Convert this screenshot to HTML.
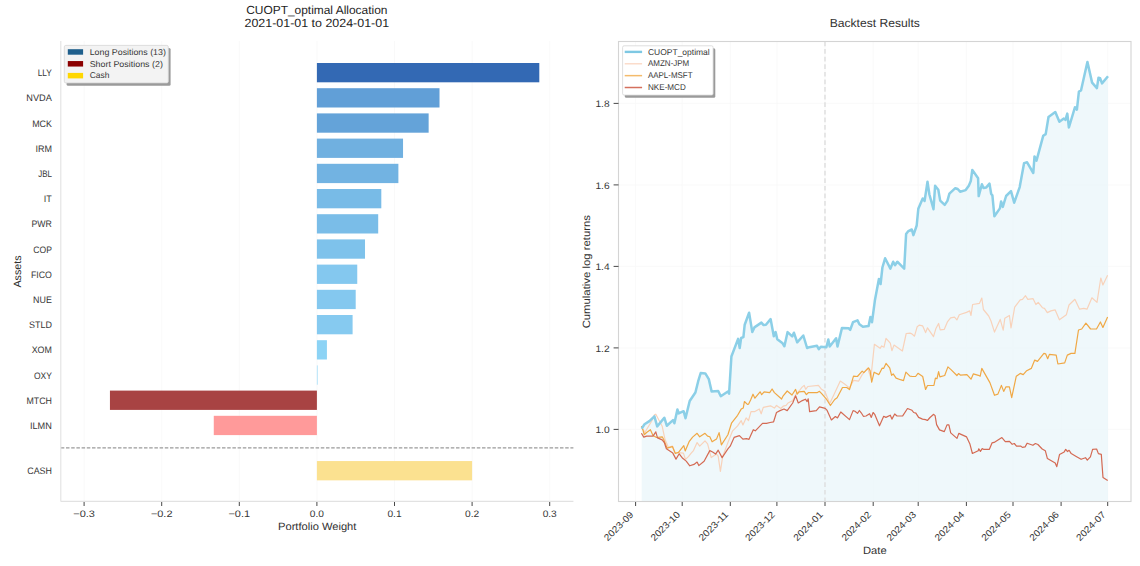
<!DOCTYPE html>
<html><head><meta charset="utf-8"><style>
html,body{margin:0;padding:0;background:#fff;width:1140px;height:566px;overflow:hidden}
svg{display:block}
text{font-family:"Liberation Sans", sans-serif;text-rendering:geometricPrecision}
.tk{font-size:9.43px;fill:#363636}
.al{font-size:10.5px;fill:#303030}
.ti{font-size:11.8px;fill:#1e1e1e}
.ti2{font-size:11.8px;fill:#333}
.lg{font-size:8.48px;fill:#363636}
</style></head><body>
<svg width="1140" height="566" viewBox="0 0 1140 566">
<rect width="1140" height="566" fill="#fff"/>
<line x1="84.10" y1="41.0" x2="84.10" y2="501.4" stroke="#f8f8f8" stroke-width="0.8"/>
<line x1="161.70" y1="41.0" x2="161.70" y2="501.4" stroke="#f8f8f8" stroke-width="0.8"/>
<line x1="239.30" y1="41.0" x2="239.30" y2="501.4" stroke="#f8f8f8" stroke-width="0.8"/>
<line x1="316.90" y1="41.0" x2="316.90" y2="501.4" stroke="#f8f8f8" stroke-width="0.8"/>
<line x1="394.50" y1="41.0" x2="394.50" y2="501.4" stroke="#f8f8f8" stroke-width="0.8"/>
<line x1="472.10" y1="41.0" x2="472.10" y2="501.4" stroke="#f8f8f8" stroke-width="0.8"/>
<line x1="549.70" y1="41.0" x2="549.70" y2="501.4" stroke="#f8f8f8" stroke-width="0.8"/>
<rect x="316.90" y="63.00" width="222.40" height="19.3" fill="#3369b4"/>
<text x="51.90" y="76.20" text-anchor="end" class="tk" textLength="14.17" lengthAdjust="spacingAndGlyphs">LLY</text>
<rect x="316.90" y="88.20" width="122.61" height="19.3" fill="#619fd7"/>
<text x="51.90" y="101.40" text-anchor="end" class="tk" textLength="25.53" lengthAdjust="spacingAndGlyphs">NVDA</text>
<rect x="316.90" y="113.40" width="111.74" height="19.3" fill="#64a3d9"/>
<text x="51.90" y="126.60" text-anchor="end" class="tk" textLength="19.73" lengthAdjust="spacingAndGlyphs">MCK</text>
<rect x="316.90" y="138.60" width="86.14" height="19.3" fill="#70b0e0"/>
<text x="51.90" y="151.80" text-anchor="end" class="tk" textLength="16.49" lengthAdjust="spacingAndGlyphs">IRM</text>
<rect x="316.90" y="163.80" width="81.48" height="19.3" fill="#72b3e2"/>
<text x="51.90" y="177.00" text-anchor="end" class="tk" textLength="13.69" lengthAdjust="spacingAndGlyphs">JBL</text>
<rect x="316.90" y="189.00" width="64.41" height="19.3" fill="#78bbe7"/>
<text x="51.90" y="202.20" text-anchor="end" class="tk" textLength="8.06" lengthAdjust="spacingAndGlyphs">IT</text>
<rect x="316.90" y="214.20" width="61.30" height="19.3" fill="#7abde8"/>
<text x="51.90" y="227.40" text-anchor="end" class="tk" textLength="20.35" lengthAdjust="spacingAndGlyphs">PWR</text>
<rect x="316.90" y="239.40" width="48.11" height="19.3" fill="#7ec2eb"/>
<text x="51.90" y="252.60" text-anchor="end" class="tk" textLength="18.59" lengthAdjust="spacingAndGlyphs">COP</text>
<rect x="316.90" y="264.60" width="40.35" height="19.3" fill="#84c8ef"/>
<text x="51.90" y="277.80" text-anchor="end" class="tk" textLength="20.96" lengthAdjust="spacingAndGlyphs">FICO</text>
<rect x="316.90" y="289.80" width="38.80" height="19.3" fill="#84c8ef"/>
<text x="51.90" y="303.00" text-anchor="end" class="tk" textLength="18.80" lengthAdjust="spacingAndGlyphs">NUE</text>
<rect x="316.90" y="315.00" width="35.70" height="19.3" fill="#86caf0"/>
<text x="51.90" y="328.20" text-anchor="end" class="tk" textLength="22.90" lengthAdjust="spacingAndGlyphs">STLD</text>
<rect x="316.90" y="340.20" width="10.01" height="19.3" fill="#8cd3f5"/>
<text x="51.90" y="353.40" text-anchor="end" class="tk" textLength="20.21" lengthAdjust="spacingAndGlyphs">XOM</text>
<rect x="316.90" y="365.40" width="0.62" height="19.3" fill="#8fd6f7"/>
<text x="51.90" y="378.60" text-anchor="end" class="tk" textLength="17.97" lengthAdjust="spacingAndGlyphs">OXY</text>
<rect x="109.94" y="390.60" width="206.96" height="19.3" fill="#a84343"/>
<text x="51.90" y="403.80" text-anchor="end" class="tk" textLength="25.50" lengthAdjust="spacingAndGlyphs">MTCH</text>
<rect x="213.77" y="415.80" width="103.13" height="19.3" fill="#ff9a9a"/>
<text x="51.90" y="429.00" text-anchor="end" class="tk" textLength="21.92" lengthAdjust="spacingAndGlyphs">ILMN</text>
<rect x="316.90" y="461.05" width="155.20" height="19.3" fill="#fbe190"/>
<text x="51.90" y="474.25" text-anchor="end" class="tk" textLength="24.64" lengthAdjust="spacingAndGlyphs">CASH</text>
<line x1="60.8" y1="447.9" x2="573.4" y2="447.9" stroke="#9a9a9a" stroke-width="1.1" stroke-dasharray="3.5 1.7"/>
<line x1="60.8" y1="41.0" x2="60.8" y2="501.4" stroke="#e2e2e2" stroke-width="1.1"/>
<line x1="60.8" y1="501.4" x2="573.4" y2="501.4" stroke="#e2e2e2" stroke-width="1.1"/>
<line x1="84.10" y1="502" x2="84.10" y2="506" stroke="#333" stroke-width="0.9"/>
<text x="84.10" y="516.60" text-anchor="middle" class="tk" textLength="21.61" lengthAdjust="spacingAndGlyphs">−0.3</text>
<line x1="161.70" y1="502" x2="161.70" y2="506" stroke="#333" stroke-width="0.9"/>
<text x="161.70" y="516.60" text-anchor="middle" class="tk" textLength="21.61" lengthAdjust="spacingAndGlyphs">−0.2</text>
<line x1="239.30" y1="502" x2="239.30" y2="506" stroke="#333" stroke-width="0.9"/>
<text x="239.30" y="516.60" text-anchor="middle" class="tk" textLength="21.61" lengthAdjust="spacingAndGlyphs">−0.1</text>
<line x1="316.90" y1="502" x2="316.90" y2="506" stroke="#333" stroke-width="0.9"/>
<text x="316.90" y="516.60" text-anchor="middle" class="tk" textLength="14.15" lengthAdjust="spacingAndGlyphs">0.0</text>
<line x1="394.50" y1="502" x2="394.50" y2="506" stroke="#333" stroke-width="0.9"/>
<text x="394.50" y="516.60" text-anchor="middle" class="tk" textLength="14.15" lengthAdjust="spacingAndGlyphs">0.1</text>
<line x1="472.10" y1="502" x2="472.10" y2="506" stroke="#333" stroke-width="0.9"/>
<text x="472.10" y="516.60" text-anchor="middle" class="tk" textLength="14.15" lengthAdjust="spacingAndGlyphs">0.2</text>
<line x1="549.70" y1="502" x2="549.70" y2="506" stroke="#333" stroke-width="0.9"/>
<text x="549.70" y="516.60" text-anchor="middle" class="tk" textLength="14.15" lengthAdjust="spacingAndGlyphs">0.3</text>
<text x="317.20" y="530.10" text-anchor="middle" class="al" textLength="78.36" lengthAdjust="spacingAndGlyphs">Portfolio Weight</text>
<text transform="translate(21.40,271.50) rotate(-90)" text-anchor="middle" class="al" textLength="32.22" lengthAdjust="spacingAndGlyphs">Assets</text>
<text x="316.80" y="14.40" text-anchor="middle" class="ti" textLength="141.26" lengthAdjust="spacingAndGlyphs">CUOPT_optimal Allocation</text>
<text x="316.80" y="27.10" text-anchor="middle" class="ti" textLength="144.56" lengthAdjust="spacingAndGlyphs">2021-01-01 to 2024-01-01</text>
<rect x="66.6" y="47.9" width="104.0" height="37.9" fill="#9a9a9a" rx="1.5"/>
<rect x="64.3" y="45.4" width="104.0" height="37.5" fill="#f3f3f3" stroke="#d6d6d6" stroke-width="0.8" rx="1.5"/>
<rect x="67.8" y="49.20" width="15.3" height="5.5" fill="#1f5f8c"/>
<text x="89.70" y="54.90" class="lg" textLength="76.18" lengthAdjust="spacingAndGlyphs">Long Positions (13)</text>
<rect x="67.8" y="61.05" width="15.3" height="5.5" fill="#8b0000"/>
<text x="89.70" y="66.55" class="lg" textLength="73.20" lengthAdjust="spacingAndGlyphs">Short Positions (2)</text>
<rect x="67.8" y="72.90" width="15.3" height="5.5" fill="#ffd700"/>
<text x="89.70" y="78.20" class="lg" textLength="19.73" lengthAdjust="spacingAndGlyphs">Cash</text>
<line x1="618.5" y1="429.40" x2="1131.0" y2="429.40" stroke="#f8f8f8" stroke-width="0.8"/>
<line x1="618.5" y1="347.90" x2="1131.0" y2="347.90" stroke="#f8f8f8" stroke-width="0.8"/>
<line x1="618.5" y1="266.40" x2="1131.0" y2="266.40" stroke="#f8f8f8" stroke-width="0.8"/>
<line x1="618.5" y1="184.90" x2="1131.0" y2="184.90" stroke="#f8f8f8" stroke-width="0.8"/>
<line x1="618.5" y1="103.40" x2="1131.0" y2="103.40" stroke="#f8f8f8" stroke-width="0.8"/>
<line x1="635.6" y1="41.5" x2="635.6" y2="501.5" stroke="#f8f8f8" stroke-width="0.8"/>
<line x1="682.2" y1="41.5" x2="682.2" y2="501.5" stroke="#f8f8f8" stroke-width="0.8"/>
<line x1="730.3" y1="41.5" x2="730.3" y2="501.5" stroke="#f8f8f8" stroke-width="0.8"/>
<line x1="776.9" y1="41.5" x2="776.9" y2="501.5" stroke="#f8f8f8" stroke-width="0.8"/>
<line x1="825.0" y1="41.5" x2="825.0" y2="501.5" stroke="#f8f8f8" stroke-width="0.8"/>
<line x1="873.2" y1="41.5" x2="873.2" y2="501.5" stroke="#f8f8f8" stroke-width="0.8"/>
<line x1="918.2" y1="41.5" x2="918.2" y2="501.5" stroke="#f8f8f8" stroke-width="0.8"/>
<line x1="966.4" y1="41.5" x2="966.4" y2="501.5" stroke="#f8f8f8" stroke-width="0.8"/>
<line x1="1013.0" y1="41.5" x2="1013.0" y2="501.5" stroke="#f8f8f8" stroke-width="0.8"/>
<line x1="1061.1" y1="41.5" x2="1061.1" y2="501.5" stroke="#f8f8f8" stroke-width="0.8"/>
<line x1="1107.7" y1="41.5" x2="1107.7" y2="501.5" stroke="#f8f8f8" stroke-width="0.8"/>
<polygon points="641.7,501.5 641.7,428.6 644.5,424.3 649.4,421.1 654.4,416.3 657.2,426.4 664.3,417.7 666.8,425.7 673.0,420.1 674.4,423.3 677.4,409.5 678.7,413.4 683.6,411.2 685.5,418.2 689.7,401.0 695.4,392.5 698.2,381.2 700.7,373.0 705.3,373.4 708.8,379.1 711.6,391.4 718.2,391.0 720.8,396.2 727.9,391.5 729.1,393.6 731.4,356.5 738.1,338.9 739.7,348.0 741.1,338.0 743.4,337.1 744.7,324.7 749.1,312.7 752.3,332.1 754.4,327.4 761.4,322.6 763.6,325.1 765.9,324.7 770.6,319.1 773.8,336.2 775.6,332.1 777.3,339.2 782.6,343.3 784.4,346.3 787.6,332.1 792.2,336.4 793.9,332.7 797.2,342.3 803.3,335.5 807.1,348.0 809.2,347.2 817.0,345.8 818.8,349.1 820.8,346.8 826.4,347.2 828.3,339.5 829.7,346.5 836.1,338.3 837.5,346.5 842.0,327.9 848.5,328.2 850.2,329.9 853.0,322.2 857.5,320.4 859.4,324.2 862.9,326.7 868.6,326.1 870.4,316.9 872.0,322.2 875.0,299.7 878.9,279.0 880.6,284.0 882.4,267.5 885.1,258.3 890.4,268.6 893.2,261.7 895.0,265.2 897.3,261.7 904.2,268.6 906.1,234.1 908.4,231.1 911.8,229.5 913.4,235.1 916.7,225.5 918.3,208.8 922.7,198.5 924.6,200.9 927.5,181.8 929.4,194.5 933.5,209.2 935.1,185.8 938.3,189.8 940.2,200.6 944.7,204.9 947.4,200.9 949.4,193.7 955.3,188.2 957.7,189.0 960.1,191.7 965.7,190.1 968.8,185.8 970.8,181.0 972.3,169.9 978.1,178.3 978.7,196.1 981.9,184.2 983.5,187.9 986.3,187.4 989.5,183.6 991.2,194.0 992.4,195.3 994.4,216.3 999.9,208.4 1001.1,201.5 1002.8,206.9 1006.1,196.0 1011.0,191.1 1014.2,202.7 1019.7,187.1 1024.1,163.1 1027.1,162.3 1033.3,173.0 1034.5,156.4 1036.5,160.6 1043.2,135.8 1045.7,134.1 1048.5,117.0 1055.3,112.0 1059.4,121.8 1063.8,118.6 1065.4,119.9 1067.3,113.6 1068.9,127.5 1075.0,107.2 1076.9,109.6 1078.9,91.6 1081.0,90.5 1087.4,61.9 1092.1,82.6 1096.9,88.1 1098.5,77.8 1100.1,78.3 1102.0,83.4 1108.0,76.2 1108.0,501.5" fill="#eaf6fa" opacity="0.75"/>
<line x1="825.0" y1="41.5" x2="825.0" y2="501.5" stroke="#dedede" stroke-width="1.4" stroke-dasharray="4.7 2.9"/>
<polyline points="641.4,426.0 644.8,432.5 651.6,421.2 654.4,414.9 655.8,414.2 662.2,426.2 665.0,439.6 668.5,447.4 672.5,446.0 674.9,452.4 683.4,453.1 685.5,459.4 688.4,456.6 691.2,453.1 693.5,450.6 697.1,442.6 699.7,446.2 705.0,440.9 707.6,443.9 711.2,457.6 716.5,454.1 718.2,456.2 720.4,471.4 722.6,456.8 727.9,442.6 732.4,431.2 737.6,425.9 741.2,420.6 742.9,425.0 746.1,417.9 748.5,420.5 751.0,411.7 754.5,411.7 759.3,409.0 761.2,413.8 763.3,407.4 770.5,405.8 774.4,408.1 776.5,405.4 780.8,408.5 783.2,406.2 786.1,405.4 788.0,403.0 792.7,400.6 795.9,394.2 799.1,391.0 802.1,387.1 804.2,385.4 805.7,389.3 807.8,386.5 818.4,385.4 821.2,388.9 824.8,391.3 829.7,403.5 834.0,394.6 840.3,381.1 844.6,384.0 849.5,387.9 853.5,380.4 858.5,381.2 862.2,374.6 867.7,368.2 870.9,377.7 874.4,344.3 880.1,348.3 881.7,345.9 884.0,347.2 886.0,338.3 890.3,343.1 891.9,350.7 894.0,345.1 902.4,351.0 906.2,333.5 910.0,333.1 911.9,333.9 914.5,336.2 917.2,326.7 919.2,325.1 922.7,325.9 925.6,332.6 927.5,327.8 933.5,336.7 935.8,328.8 938.6,323.5 940.2,329.9 944.2,329.4 947.4,321.9 950.6,317.9 954.5,317.2 956.9,319.9 959.3,314.8 966.5,312.4 969.7,310.9 971.0,315.5 972.6,304.5 979.5,303.3 981.8,298.0 983.4,309.5 988.7,316.0 991.0,321.0 994.5,332.1 1000.2,319.4 1003.2,330.2 1004.8,318.3 1009.4,315.5 1011.0,327.9 1014.7,307.2 1020.2,299.9 1022.5,299.4 1025.5,295.7 1027.8,299.4 1033.1,298.7 1035.9,304.5 1038.2,302.4 1042.4,307.7 1044.5,308.4 1047.3,312.6 1050.9,310.9 1055.2,309.9 1059.4,319.8 1066.4,314.7 1069.0,305.0 1074.9,299.3 1079.6,309.2 1083.8,308.4 1087.0,309.2 1091.9,297.8 1097.0,302.4 1100.8,278.0 1102.9,285.0 1107.6,275.3" fill="none" stroke="#f8d2ba" stroke-width="1.2" stroke-linejoin="round"/>
<polyline points="641.4,426.2 643.1,430.4 644.2,434.7 646.6,432.5 650.4,429.7 653.0,435.4 656.5,437.5 662.2,436.8 663.6,439.3 667.1,448.1 672.5,446.7 675.3,453.5 678.5,452.4 683.8,445.6 685.2,450.9 689.1,441.7 692.6,437.1 697.1,433.3 699.7,436.8 705.0,433.3 707.6,436.1 709.8,436.8 712.1,441.8 716.5,439.1 719.1,432.6 721.4,444.9 727.9,434.7 731.5,423.2 737.6,415.3 741.2,409.1 743.3,407.9 744.4,401.5 747.4,404.4 748.5,404.2 750.6,400.1 753.0,394.2 754.9,398.2 760.1,391.8 761.7,394.7 764.1,391.8 769.7,392.6 772.1,389.0 774.4,392.6 781.6,399.0 783.2,395.8 787.2,391.0 792.0,395.0 795.6,389.4 797.2,394.2 799.1,391.8 804.2,391.3 806.4,394.6 808.5,392.5 817.0,392.7 819.5,391.3 821.9,393.9 826.2,398.8 830.4,405.5 834.7,399.5 837.1,397.8 842.5,387.5 846.7,387.5 849.5,389.6 853.5,376.2 857.4,376.5 862.2,371.1 863.8,372.7 868.5,367.9 870.1,370.6 871.7,382.2 874.1,372.2 878.9,374.6 882.1,368.2 883.6,368.5 886.0,363.4 889.7,367.9 891.6,375.4 893.2,373.8 896.1,378.1 900.4,379.7 903.5,380.6 905.9,372.2 909.9,376.2 912.4,376.5 915.6,376.5 918.0,373.3 922.7,376.5 925.6,389.5 927.5,385.5 933.9,385.5 935.4,378.1 937.0,378.7 938.6,371.7 939.9,376.8 944.7,375.5 947.9,366.9 951.0,369.6 956.9,375.5 958.5,373.6 960.6,375.2 966.9,374.6 971.0,379.2 973.3,373.9 978.4,375.3 980.2,376.2 981.8,368.4 989.9,382.6 994.5,395.3 997.9,394.1 1001.4,385.4 1003.7,391.4 1006.0,386.8 1009.4,386.8 1011.7,397.6 1016.3,376.2 1020.2,373.4 1023.2,374.6 1026.7,370.7 1031.3,368.4 1034.7,360.1 1037.5,361.4 1043.9,353.4 1045.6,353.8 1047.7,358.7 1049.4,354.4 1056.2,355.1 1057.9,364.0 1064.7,362.9 1067.3,355.1 1071.1,353.4 1074.9,353.4 1078.5,330.0 1081.7,329.0 1085.9,323.2 1090.6,329.0 1096.5,329.0 1100.4,322.0 1102.9,327.5 1107.6,316.9" fill="none" stroke="#f0a845" stroke-width="1.2" stroke-linejoin="round"/>
<polyline points="641.4,433.3 643.8,437.1 646.6,436.1 653.0,436.1 655.8,431.8 657.5,437.9 662.2,439.9 664.3,442.5 666.4,448.8 672.8,453.1 676.0,459.1 679.2,453.8 682.7,458.3 686.2,461.1 689.8,465.8 694.0,464.4 697.1,462.1 698.8,465.6 704.1,461.2 709.8,450.6 712.6,452.0 715.6,454.1 718.2,450.2 722.1,457.6 727.9,448.8 730.2,446.2 734.1,437.4 739.4,435.6 742.9,439.1 746.5,438.6 749.0,439.3 751.0,434.8 753.3,429.7 755.3,430.8 762.5,423.3 766.5,423.3 770.1,422.5 773.6,421.8 776.5,412.5 780.0,410.6 784.0,409.0 787.2,410.6 792.7,403.0 795.6,395.8 798.3,403.0 802.3,400.6 805.4,399.2 807.1,401.6 808.2,398.8 809.6,411.6 816.3,410.6 819.5,406.9 825.2,408.3 826.9,410.1 831.4,420.0 835.4,416.5 837.5,417.9 840.8,412.0 849.5,419.6 853.1,410.6 855.0,411.2 857.5,413.4 859.4,410.5 861.2,412.8 863.4,416.3 866.0,416.0 869.6,413.7 871.3,417.4 873.1,412.5 874.9,414.7 879.5,425.8 883.7,416.3 885.9,417.4 890.3,415.2 891.9,419.1 894.7,414.0 897.0,416.0 902.7,415.8 907.5,408.5 912.0,410.3 913.7,412.5 915.9,413.1 918.6,417.4 922.5,419.1 925.6,419.6 927.4,420.5 930.0,417.5 933.7,414.3 935.1,415.7 936.6,424.6 939.5,429.9 944.3,431.6 947.0,424.9 948.9,424.9 950.7,432.9 957.0,438.4 958.8,433.4 966.6,436.9 969.8,443.7 972.4,453.5 978.2,450.7 978.8,448.8 980.4,451.4 982.2,448.6 983.5,449.3 989.4,449.3 992.0,442.9 994.1,442.4 1001.9,437.6 1005.3,441.6 1009.5,441.3 1012.2,444.3 1014.3,443.5 1016.5,446.2 1020.6,446.0 1022.4,447.4 1025.1,446.9 1027.1,443.2 1032.9,445.3 1035.4,443.5 1037.9,444.5 1042.2,449.0 1045.3,450.7 1047.4,458.6 1055.2,463.0 1056.8,466.7 1059.5,454.6 1064.2,451.9 1065.7,449.4 1067.5,451.5 1069.1,450.3 1071.2,453.6 1076.2,456.5 1081.1,459.3 1085.5,457.7 1087.3,460.2 1090.4,456.8 1092.6,449.4 1096.6,449.0 1098.4,453.6 1101.3,454.4 1103.0,477.5 1107.7,480.6" fill="none" stroke="#d46a53" stroke-width="1.2" stroke-linejoin="round"/>
<polyline points="641.7,428.6 644.5,424.3 649.4,421.1 654.4,416.3 657.2,426.4 664.3,417.7 666.8,425.7 673.0,420.1 674.4,423.3 677.4,409.5 678.7,413.4 683.6,411.2 685.5,418.2 689.7,401.0 695.4,392.5 698.2,381.2 700.7,373.0 705.3,373.4 708.8,379.1 711.6,391.4 718.2,391.0 720.8,396.2 727.9,391.5 729.1,393.6 731.4,356.5 738.1,338.9 739.7,348.0 741.1,338.0 743.4,337.1 744.7,324.7 749.1,312.7 752.3,332.1 754.4,327.4 761.4,322.6 763.6,325.1 765.9,324.7 770.6,319.1 773.8,336.2 775.6,332.1 777.3,339.2 782.6,343.3 784.4,346.3 787.6,332.1 792.2,336.4 793.9,332.7 797.2,342.3 803.3,335.5 807.1,348.0 809.2,347.2 817.0,345.8 818.8,349.1 820.8,346.8 826.4,347.2 828.3,339.5 829.7,346.5 836.1,338.3 837.5,346.5 842.0,327.9 848.5,328.2 850.2,329.9 853.0,322.2 857.5,320.4 859.4,324.2 862.9,326.7 868.6,326.1 870.4,316.9 872.0,322.2 875.0,299.7 878.9,279.0 880.6,284.0 882.4,267.5 885.1,258.3 890.4,268.6 893.2,261.7 895.0,265.2 897.3,261.7 904.2,268.6 906.1,234.1 908.4,231.1 911.8,229.5 913.4,235.1 916.7,225.5 918.3,208.8 922.7,198.5 924.6,200.9 927.5,181.8 929.4,194.5 933.5,209.2 935.1,185.8 938.3,189.8 940.2,200.6 944.7,204.9 947.4,200.9 949.4,193.7 955.3,188.2 957.7,189.0 960.1,191.7 965.7,190.1 968.8,185.8 970.8,181.0 972.3,169.9 978.1,178.3 978.7,196.1 981.9,184.2 983.5,187.9 986.3,187.4 989.5,183.6 991.2,194.0 992.4,195.3 994.4,216.3 999.9,208.4 1001.1,201.5 1002.8,206.9 1006.1,196.0 1011.0,191.1 1014.2,202.7 1019.7,187.1 1024.1,163.1 1027.1,162.3 1033.3,173.0 1034.5,156.4 1036.5,160.6 1043.2,135.8 1045.7,134.1 1048.5,117.0 1055.3,112.0 1059.4,121.8 1063.8,118.6 1065.4,119.9 1067.3,113.6 1068.9,127.5 1075.0,107.2 1076.9,109.6 1078.9,91.6 1081.0,90.5 1087.4,61.9 1092.1,82.6 1096.9,88.1 1098.5,77.8 1100.1,78.3 1102.0,83.4 1108.0,76.2" fill="none" stroke="#8bcfe7" stroke-width="2.5" stroke-linejoin="round"/>
<rect x="618.5" y="41.5" width="512.5" height="460.0" fill="none" stroke="#d4d4d4" stroke-width="1.1"/>
<line x1="613.6" y1="429.40" x2="618.5" y2="429.40" stroke="#333" stroke-width="0.9"/>
<text x="609.60" y="433.00" text-anchor="end" class="tk" textLength="14.15" lengthAdjust="spacingAndGlyphs">1.0</text>
<line x1="613.6" y1="347.90" x2="618.5" y2="347.90" stroke="#333" stroke-width="0.9"/>
<text x="609.60" y="351.50" text-anchor="end" class="tk" textLength="14.15" lengthAdjust="spacingAndGlyphs">1.2</text>
<line x1="613.6" y1="266.40" x2="618.5" y2="266.40" stroke="#333" stroke-width="0.9"/>
<text x="609.60" y="270.00" text-anchor="end" class="tk" textLength="14.15" lengthAdjust="spacingAndGlyphs">1.4</text>
<line x1="613.6" y1="184.90" x2="618.5" y2="184.90" stroke="#333" stroke-width="0.9"/>
<text x="609.60" y="188.50" text-anchor="end" class="tk" textLength="14.15" lengthAdjust="spacingAndGlyphs">1.6</text>
<line x1="613.6" y1="103.40" x2="618.5" y2="103.40" stroke="#333" stroke-width="0.9"/>
<text x="609.60" y="107.00" text-anchor="end" class="tk" textLength="14.15" lengthAdjust="spacingAndGlyphs">1.8</text>
<line x1="635.6" y1="502" x2="635.6" y2="506" stroke="#333" stroke-width="0.9"/>
<text transform="translate(634.10,515.20) rotate(-45)" text-anchor="end" class="tk" textLength="37.19" lengthAdjust="spacingAndGlyphs">2023-09</text>
<line x1="682.2" y1="502" x2="682.2" y2="506" stroke="#333" stroke-width="0.9"/>
<text transform="translate(680.70,515.20) rotate(-45)" text-anchor="end" class="tk" textLength="37.19" lengthAdjust="spacingAndGlyphs">2023-10</text>
<line x1="730.3" y1="502" x2="730.3" y2="506" stroke="#333" stroke-width="0.9"/>
<text transform="translate(728.80,515.20) rotate(-45)" text-anchor="end" class="tk" textLength="37.19" lengthAdjust="spacingAndGlyphs">2023-11</text>
<line x1="776.9" y1="502" x2="776.9" y2="506" stroke="#333" stroke-width="0.9"/>
<text transform="translate(775.40,515.20) rotate(-45)" text-anchor="end" class="tk" textLength="37.19" lengthAdjust="spacingAndGlyphs">2023-12</text>
<line x1="825.0" y1="502" x2="825.0" y2="506" stroke="#333" stroke-width="0.9"/>
<text transform="translate(823.50,515.20) rotate(-45)" text-anchor="end" class="tk" textLength="37.19" lengthAdjust="spacingAndGlyphs">2024-01</text>
<line x1="873.2" y1="502" x2="873.2" y2="506" stroke="#333" stroke-width="0.9"/>
<text transform="translate(871.70,515.20) rotate(-45)" text-anchor="end" class="tk" textLength="37.19" lengthAdjust="spacingAndGlyphs">2024-02</text>
<line x1="918.2" y1="502" x2="918.2" y2="506" stroke="#333" stroke-width="0.9"/>
<text transform="translate(916.70,515.20) rotate(-45)" text-anchor="end" class="tk" textLength="37.19" lengthAdjust="spacingAndGlyphs">2024-03</text>
<line x1="966.4" y1="502" x2="966.4" y2="506" stroke="#333" stroke-width="0.9"/>
<text transform="translate(964.90,515.20) rotate(-45)" text-anchor="end" class="tk" textLength="37.19" lengthAdjust="spacingAndGlyphs">2024-04</text>
<line x1="1013.0" y1="502" x2="1013.0" y2="506" stroke="#333" stroke-width="0.9"/>
<text transform="translate(1011.50,515.20) rotate(-45)" text-anchor="end" class="tk" textLength="37.19" lengthAdjust="spacingAndGlyphs">2024-05</text>
<line x1="1061.1" y1="502" x2="1061.1" y2="506" stroke="#333" stroke-width="0.9"/>
<text transform="translate(1059.60,515.20) rotate(-45)" text-anchor="end" class="tk" textLength="37.19" lengthAdjust="spacingAndGlyphs">2024-06</text>
<line x1="1107.7" y1="502" x2="1107.7" y2="506" stroke="#333" stroke-width="0.9"/>
<text transform="translate(1106.20,515.20) rotate(-45)" text-anchor="end" class="tk" textLength="37.19" lengthAdjust="spacingAndGlyphs">2024-07</text>
<text x="874.80" y="554.20" text-anchor="middle" class="al" textLength="23.66" lengthAdjust="spacingAndGlyphs">Date</text>
<text transform="translate(589.60,271.70) rotate(-90)" text-anchor="middle" class="al" textLength="113.32" lengthAdjust="spacingAndGlyphs">Cumulative log returns</text>
<text x="874.80" y="26.90" text-anchor="middle" class="ti2" textLength="90.22" lengthAdjust="spacingAndGlyphs">Backtest Results</text>
<rect x="624.8" y="48.2" width="90.5" height="49.6" fill="#9a9a9a" rx="1.5"/>
<rect x="622.6" y="45.8" width="90.5" height="49.3" fill="#ffffff" stroke="#d6d6d6" stroke-width="0.8" rx="1.5"/>
<line x1="624.7" y1="51.90" x2="642.1" y2="51.90" stroke="#7ec8e3" stroke-width="2.4"/>
<text x="648.00" y="54.70" class="lg" textLength="61.70" lengthAdjust="spacingAndGlyphs">CUOPT_optimal</text>
<line x1="624.7" y1="63.77" x2="642.1" y2="63.77" stroke="#fbdccb" stroke-width="1.5"/>
<text x="648.00" y="66.40" class="lg" textLength="41.26" lengthAdjust="spacingAndGlyphs">AMZN-JPM</text>
<line x1="624.7" y1="75.64" x2="642.1" y2="75.64" stroke="#f4bb6c" stroke-width="1.5"/>
<text x="648.00" y="78.10" class="lg" textLength="44.52" lengthAdjust="spacingAndGlyphs">AAPL-MSFT</text>
<line x1="624.7" y1="87.51" x2="642.1" y2="87.51" stroke="#d4705e" stroke-width="1.5"/>
<text x="648.00" y="89.80" class="lg" textLength="37.82" lengthAdjust="spacingAndGlyphs">NKE-MCD</text>
</svg>
</body></html>
